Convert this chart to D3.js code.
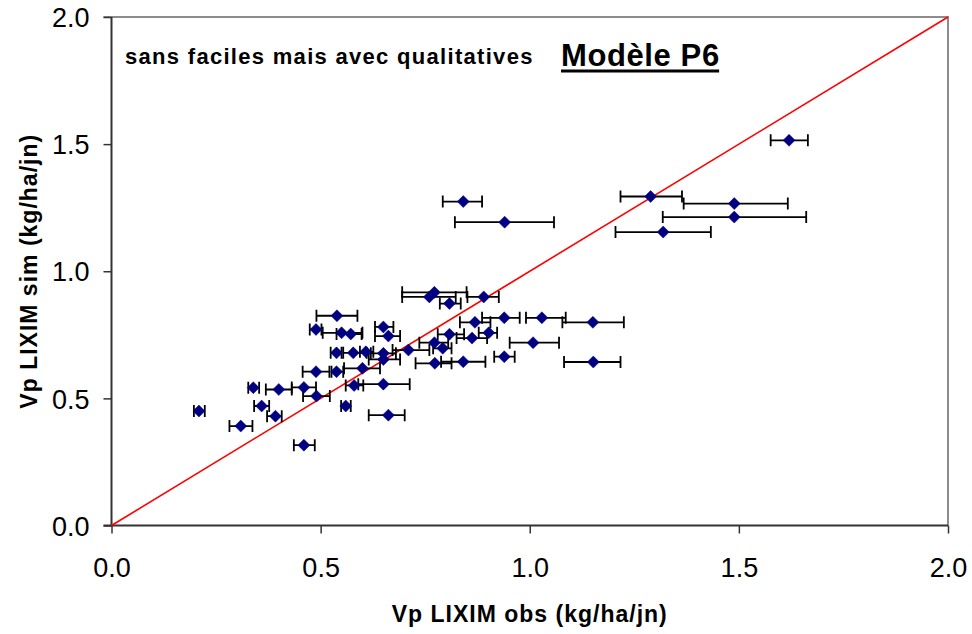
<!DOCTYPE html>
<html>
<head>
<meta charset="utf-8">
<script src="https://cdn.jsdelivr.net/npm/d3@7"></script>
<style>
  html, body { margin: 0; padding: 0; background: #fff; }
  svg { display: block; font-family: "Liberation Sans", Arial, sans-serif; }
</style>
</head>
<body>
<svg id="chart" width="972" height="634"></svg>
<script>
// Observed (x) and simulated (y) values, with the observed range shown as horizontal error bars
const obs     = [1.620, 1.289, 1.489, 1.489, 1.319, 0.841, 0.940, 0.772, 0.760, 0.808,
                 0.890, 0.939, 1.029, 1.151, 0.869, 0.902, 0.808, 0.862, 0.772, 0.792,
                 1.008, 0.710, 0.650, 0.662, 0.650, 0.650, 0.939, 0.773, 0.841, 1.152,
                 0.650, 0.662, 0.539, 0.489, 0.550, 0.572, 0.538, 0.578, 0.608, 0.600,
                 0.489, 0.538, 0.580, 0.460, 0.400, 0.339, 0.490, 0.560, 0.359, 0.392,
                 0.209, 0.309, 0.460];
const sim     = [1.515, 1.294, 1.266, 1.213, 1.154, 1.274, 1.193, 0.917, 0.899, 0.873,
                 0.899, 0.817, 0.817, 0.799, 0.799, 0.758, 0.752, 0.737, 0.719, 0.697,
                 0.719, 0.690, 0.781, 0.745, 0.677, 0.653, 0.664, 0.638, 0.644, 0.643,
                 0.556, 0.434, 0.825, 0.771, 0.758, 0.753, 0.679, 0.679, 0.683, 0.618,
                 0.605, 0.605, 0.551, 0.543, 0.535, 0.542, 0.509, 0.470, 0.470, 0.430,
                 0.450, 0.391, 0.316];
const obsLow  = [1.576, 1.217, 1.368, 1.318, 1.205, 0.792, 0.821, 0.695, 0.695, 0.785,
                 0.851, 0.886, 0.991, 1.078, 0.833, 0.878, 0.780, 0.825, 0.736, 0.769,
                 0.952, 0.672, 0.630, 0.630, 0.620, 0.615, 0.915, 0.727, 0.788, 1.082,
                 0.590, 0.615, 0.490, 0.474, 0.505, 0.538, 0.524, 0.554, 0.594, 0.556,
                 0.457, 0.526, 0.560, 0.431, 0.369, 0.327, 0.458, 0.549, 0.341, 0.372,
                 0.197, 0.282, 0.436];
const obsHigh = [1.665, 1.364, 1.617, 1.661, 1.433, 0.886, 1.058, 0.849, 0.823, 0.835,
                 0.926, 0.976, 1.086, 1.225, 0.906, 0.922, 0.843, 0.898, 0.805, 0.813,
                 1.070, 0.760, 0.674, 0.690, 0.680, 0.690, 0.964, 0.813, 0.894, 1.217,
                 0.713, 0.701, 0.588, 0.502, 0.600, 0.598, 0.550, 0.610, 0.626, 0.642,
                 0.521, 0.554, 0.602, 0.489, 0.431, 0.353, 0.522, 0.572, 0.377, 0.407,
                 0.223, 0.337, 0.486];

const tickValues = [0, 0.5, 1.0, 1.5, 2.0];
const subtitle = "sans faciles mais avec qualitatives";
const title = "Modèle P6";
const xTitle = "Vp LIXIM obs (kg/ha/jn)";
const yTitle = "Vp LIXIM sim (kg/ha/jn)";

const points = obs.map((d, i) => ({ x: d, y: sim[i], lo: obsLow[i], hi: obsHigh[i] }));

const svg = d3.select("#chart");
const plot = { left: 111.5, right: 948, top: 17, bottom: 525.5 };

const x = d3.scaleLinear().domain([0, 2]).range([plot.left, plot.right]);
const y = d3.scaleLinear().domain([0, 2]).range([plot.bottom, plot.top]);

// Plot frame: light top/right edges
svg.append("path")
  .attr("d", `M${plot.left - 8},${plot.top}H${plot.right}V${plot.bottom}`)
  .attr("fill", "none")
  .attr("stroke", "#8c8c8c")
  .attr("stroke-width", 2);

// Axes
const xAxis = svg.append("g")
  .attr("transform", `translate(0,${plot.bottom})`)
  .call(d3.axisBottom(x).tickValues(tickValues).tickFormat(d3.format(".1f")).tickSizeOuter(0).tickSizeInner(8).tickPadding(24));
const yAxis = svg.append("g")
  .attr("transform", `translate(${plot.left},0)`)
  .call(d3.axisLeft(y).tickValues(tickValues).tickFormat(d3.format(".1f")).tickSizeOuter(0).tickSizeInner(8).tickPadding(14));

[xAxis, yAxis].forEach(g => {
  g.select(".domain").attr("stroke", "#333").attr("stroke-width", 2);
  g.selectAll(".tick line").attr("stroke", "#333").attr("stroke-width", 1.5);
  g.selectAll(".tick text")
    .attr("fill", "#000")
    .style("font-size", "27px")
    .style("font-family", "'Liberation Sans', Arial, sans-serif");
});
xAxis.select(".domain").attr("d", `M${plot.left - 8},0H${plot.right}`);
yAxis.select(".domain").attr("d", `M0,${plot.top}V${plot.bottom}`);
yAxis.selectAll(".tick text").attr("dy", "0.36em");

// 1:1 reference line
svg.append("line")
  .attr("x1", x(0)).attr("y1", y(0))
  .attr("x2", x(2)).attr("y2", y(2))
  .attr("stroke", "#ff0000")
  .attr("stroke-width", 1.6);

// Horizontal error bars
const cap = 6;
const bars = svg.append("g").attr("stroke", "#000").attr("stroke-width", 1.8).attr("fill", "none");
bars.selectAll("path")
  .data(points)
  .join("path")
  .attr("d", d => {
    const yy = y(d.y), x0 = x(d.lo), x1 = x(d.hi);
    return `M${x0},${yy}H${x1}M${x0},${yy - cap}V${yy + cap}M${x1},${yy - cap}V${yy + cap}`;
  });

// Diamond markers
const r = 6;
svg.append("g")
  .selectAll("path")
  .data(points)
  .join("path")
  .attr("transform", d => `translate(${x(d.x)},${y(d.y)})`)
  .attr("d", `M0,${-r}L${r},0L0,${r}L${-r},0Z`)
  .attr("fill", "#000080")
  .attr("stroke", "#000080")
  .attr("stroke-width", 0.5);

// Titles
svg.append("text")
  .attr("x", 125).attr("y", 64)
  .style("font-size", "22px").style("font-weight", "bold")
  .style("letter-spacing", "1.3px")
  .text(subtitle);

const t = svg.append("text")
  .attr("x", 561).attr("y", 66)
  .style("font-size", "31px").style("font-weight", "bold")
  .style("letter-spacing", "0.6px")
  .text(title);
const tb = t.node().getBBox();
svg.append("rect")
  .attr("x", tb.x).attr("y", 69.5)
  .attr("width", tb.width - 0.6).attr("height", 3)
  .attr("fill", "#000");

svg.append("text")
  .attr("x", (plot.left + plot.right) / 2).attr("y", 622)
  .attr("text-anchor", "middle")
  .style("font-size", "23px").style("font-weight", "bold")
  .style("letter-spacing", "1px")
  .text(xTitle);

svg.append("text")
  .attr("transform", `translate(37,${(plot.top + plot.bottom) / 2}) rotate(-90)`)
  .attr("text-anchor", "middle")
  .style("font-size", "23px").style("font-weight", "bold")
  .style("letter-spacing", "1px")
  .text(yTitle);
</script>
</body>
</html>
